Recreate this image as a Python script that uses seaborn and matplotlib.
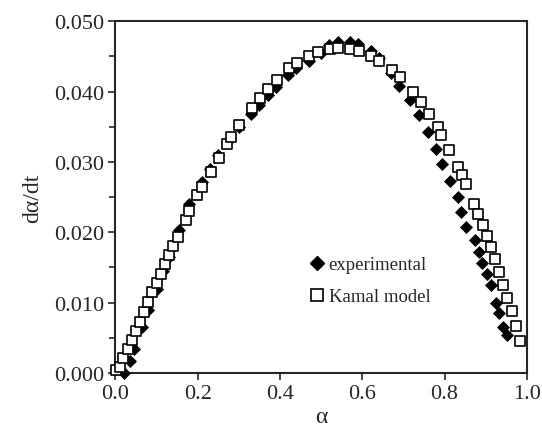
import numpy as np
import pandas as pd
import matplotlib
matplotlib.use("Agg")
import matplotlib.pyplot as plt
from matplotlib.lines import Line2D
import seaborn as sns

# Experimental data (black diamonds)
alpha_exp = [0.020, 0.035, 0.045, 0.065, 0.080, 0.100, 0.115, 0.130, 0.155, 0.180,
             0.210, 0.230, 0.250, 0.270, 0.300, 0.330, 0.350, 0.370, 0.390, 0.420,
             0.440, 0.470, 0.500, 0.520, 0.540, 0.570, 0.590, 0.620, 0.640, 0.670,
             0.690, 0.717, 0.737, 0.760, 0.780, 0.793, 0.813, 0.833, 0.841, 0.853,
             0.873, 0.883, 0.892, 0.904, 0.913, 0.924, 0.932, 0.943, 0.951]
rate_exp = [0.0000, 0.0017, 0.0034, 0.0066, 0.0090, 0.0120, 0.0145, 0.0165, 0.0203, 0.0240,
            0.0272, 0.0290, 0.0310, 0.0328, 0.0350, 0.0368, 0.0381, 0.0395, 0.0407, 0.0423,
            0.0433, 0.0444, 0.0455, 0.0466, 0.0470, 0.0470, 0.0467, 0.0458, 0.0447, 0.0427,
            0.0408, 0.0388, 0.0366, 0.0343, 0.0319, 0.0297, 0.0273, 0.0250, 0.0229, 0.0208,
            0.0189, 0.0172, 0.0156, 0.0141, 0.0125, 0.0100, 0.0086, 0.0065, 0.0054]

# Kamal model (open squares)
alpha_model = [0.001, 0.011, 0.019, 0.031, 0.041, 0.050, 0.060, 0.070, 0.080, 0.090,
               0.100, 0.110, 0.120, 0.130, 0.141, 0.151, 0.171, 0.179, 0.199, 0.211,
               0.232, 0.251, 0.270, 0.281, 0.301, 0.331, 0.351, 0.371, 0.392, 0.421,
               0.441, 0.471, 0.492, 0.521, 0.542, 0.570, 0.592, 0.620, 0.641, 0.672,
               0.692, 0.723, 0.743, 0.763, 0.783, 0.791, 0.811, 0.832, 0.842, 0.852,
               0.872, 0.882, 0.893, 0.902, 0.912, 0.923, 0.932, 0.943, 0.953, 0.963,
               0.974, 0.983]
rate_model = [0.0005, 0.0008, 0.0021, 0.0034, 0.0047, 0.0060, 0.0073, 0.0087, 0.0101, 0.0115,
              0.0128, 0.0141, 0.0155, 0.0168, 0.0180, 0.0193, 0.0218, 0.0230, 0.0253, 0.0264,
              0.0286, 0.0306, 0.0325, 0.0336, 0.0353, 0.0376, 0.0391, 0.0404, 0.0417, 0.0433,
              0.0441, 0.0451, 0.0456, 0.0461, 0.0462, 0.0461, 0.0458, 0.0451, 0.0444, 0.0430,
              0.0420, 0.0400, 0.0385, 0.0368, 0.0349, 0.0338, 0.0317, 0.0293, 0.0281, 0.0268,
              0.0240, 0.0226, 0.0210, 0.0195, 0.0179, 0.0162, 0.0144, 0.0125, 0.0107, 0.0088,
              0.0067, 0.0046]

x_ticks = [0.0, 0.2, 0.4, 0.6, 0.8, 1.0]
x_ticklabels = ["0.0", "0.2", "0.4", "0.6", "0.8", "1.0"]
y_ticks = [0.000, 0.010, 0.020, 0.030, 0.040, 0.050]
y_ticklabels = ["0.000", "0.010", "0.020", "0.030", "0.040", "0.050"]
legend_labels = ["experimental", "Kamal model"]

sns.set_style("ticks")
plt.rcParams['font.family'] = ['Liberation Serif', 'DejaVu Serif']
plt.rcParams['mathtext.fontset'] = 'stix'

df_exp = pd.DataFrame({"alpha": alpha_exp, "rate": rate_exp})
df_mod = pd.DataFrame({"alpha": alpha_model, "rate": rate_model})

fig = plt.figure(figsize=(5.42, 4.27), dpi=100)
ax = fig.add_axes([0.213, 0.124, 0.759, 0.824])

sns.scatterplot(data=df_exp, x="alpha", y="rate", marker="D", color="black",
                s=44, linewidth=0, ax=ax, clip_on=False, zorder=3)
sns.scatterplot(data=df_mod, x="alpha", y="rate", marker="s", facecolor="white",
                edgecolor="black", s=62, linewidth=1.2, ax=ax, clip_on=False, zorder=4)

ax.set_xlim(0, 1.0)
ax.set_ylim(0, 0.05)
ax.set_xticks(x_ticks)
ax.set_xticklabels(x_ticklabels)
ax.set_yticks(y_ticks)
ax.set_yticklabels(y_ticklabels)
ax.set_yticks(np.arange(0.005, 0.05, 0.01), minor=True)
ax.tick_params(axis='both', which='major', direction='out', length=5, width=1.2,
               labelsize=16, pad=3)
ax.tick_params(axis='y', which='minor', direction='out', length=4, width=1.2)
for sp in ax.spines.values():
    sp.set_linewidth(1.5)
    sp.set_visible(True)

ax.set_xlabel("α", fontsize=17, labelpad=2)
ax.set_ylabel("dα/dt", fontsize=17, labelpad=8)

handles = [Line2D([], [], marker="D", color="black", linestyle="none", markersize=7),
           Line2D([], [], marker="s", markerfacecolor="white", markeredgecolor="black",
                  markeredgewidth=1.2, linestyle="none", markersize=8.5)]
ax.legend(handles, legend_labels, loc="center left", bbox_to_anchor=(0.45, 0.262),
          frameon=False, fontsize=13.5, handlelength=0.8, handletextpad=0.2,
          labelspacing=0.8, borderpad=0)

fig.savefig("out.png", dpi=100)
